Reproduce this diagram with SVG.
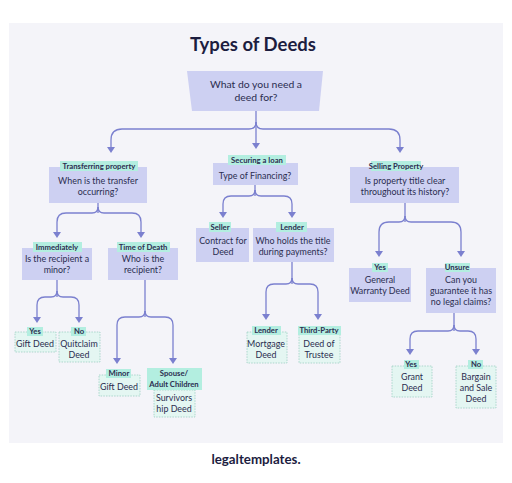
<svg xmlns="http://www.w3.org/2000/svg" width="512" height="483" viewBox="0 0 512 483">
<defs>
<style>
.bg{fill:#f4f4f9}
.box{fill:#cdd0f2}
.tag{fill:#b3eee0}
.leaf{fill:#e4f6f2;stroke:#9ccfc3;stroke-width:0.8;stroke-dasharray:1.5 1.2}
.c{fill:none;stroke:#7b80cf;stroke-width:1.3}
.ar{fill:#7b80cf}
text{font-family:Lato,"Noto Sans","DejaVu Sans",sans-serif;fill:#2b2d50;text-anchor:middle}
.t{font-size:8.9px}
.g{font-size:7.7px;font-weight:700}
.r{font-size:10.4px}
</style>
</defs>
<rect x="0" y="0" width="512" height="483" fill="#ffffff"/>
<rect class="bg" x="9" y="23" width="494" height="420"/>
<text x="253" y="51" style="font-size:18.5px;font-weight:700;fill:#1c1d3f">Types of Deeds</text>

<g id="connectors">
<path class="c" d="M256,111 V129"/>
<path class="c" d="M256,122 Q256,129 249,129 H122 Q111,129 111,140 V148"/>
<path class="c" d="M256,122 Q256,129 263,129 H389 Q400,129 400,140 V148"/>
<path class="c" d="M256,129 V144"/>
<path class="ar" d="M252,143 H260 L256,149 Z"/>
<path class="ar" d="M107,147 H115 L111,153 Z"/>
<path class="ar" d="M396,147 H404 L400,153 Z"/>
<path class="c" d="M98,203 V213"/>
<path class="c" d="M98,207 Q98,213 92,213 H66 Q57,213 57,222 V233"/>
<path class="c" d="M98,207 Q98,213 104,213 H132 Q141,213 141,222 V233"/>
<path class="ar" d="M53,232 H61 L57,238 Z"/>
<path class="ar" d="M137,232 H145 L141,238 Z"/>
<path class="c" d="M255,185 V196"/>
<path class="c" d="M255,190 Q255,196 249,196 H231 Q223,196 223,204 V213"/>
<path class="c" d="M255,190 Q255,196 261,196 H284 Q292,196 292,204 V213"/>
<path class="ar" d="M219,212 H227 L223,218 Z"/>
<path class="ar" d="M288,212 H296 L292,218 Z"/>
<path class="c" d="M405,203 V222"/>
<path class="c" d="M405,216 Q405,222 399,222 H389 Q379,222 379,232 V252"/>
<path class="c" d="M405,216 Q405,222 411,222 H451 Q461,222 461,232 V252"/>
<path class="ar" d="M375,251 H383 L379,257 Z"/>
<path class="ar" d="M457,251 H465 L461,257 Z"/>
<path class="c" d="M57,280 V297"/>
<path class="c" d="M57,291 Q57,297 51,297 H45 Q37,297 37,305 V318"/>
<path class="c" d="M57,291 Q57,297 63,297 H71 Q79,297 79,305 V318"/>
<path class="ar" d="M33,317 H41 L37,323 Z"/>
<path class="ar" d="M75,317 H83 L79,323 Z"/>
<path class="c" d="M145,280 V317"/>
<path class="c" d="M145,311 Q145,317 139,317 H125 Q117,317 117,325 V359"/>
<path class="c" d="M145,311 Q145,317 151,317 H165 Q173,317 173,325 V359"/>
<path class="ar" d="M113,358 H121 L117,364 Z"/>
<path class="ar" d="M169,358 H177 L173,364 Z"/>
<path class="c" d="M292,262 V284"/>
<path class="c" d="M292,278 Q292,284 286,284 H274 Q266,284 266,292 V315"/>
<path class="c" d="M292,278 Q292,284 298,284 H310 Q318,284 318,292 V315"/>
<path class="ar" d="M262,314 H270 L266,320 Z"/>
<path class="ar" d="M314,314 H322 L318,320 Z"/>
<path class="c" d="M454,313 V331"/>
<path class="c" d="M454,325 Q454,331 448,331 H418 Q410,331 410,339 V350"/>
<path class="c" d="M454,325 Q454,331 460,331 H468 Q476,331 476,339 V350"/>
<path class="ar" d="M406,349 H414 L410,355 Z"/>
<path class="ar" d="M472,349 H480 L476,355 Z"/>
</g>

<g id="root">
<polygon class="box" points="187,71 323,71 319,111 192,111"/>
<text class="r" x="256" y="88">What do you need a</text>
<text class="r" x="256" y="101">deed for?</text>
</g>

<g id="transferring">
<rect class="box" x="49" y="167" width="98" height="36"/>
<rect class="tag" x="60" y="161" width="78" height="10"/>
<text class="g" x="99" y="169">Transferring property</text>
<text class="t" x="98" y="184">When is the transfer</text>
<text class="t" x="98" y="195">occurring?</text>
</g>

<g id="securing">
<rect class="box" x="213" y="163" width="85" height="22"/>
<rect class="tag" x="228" y="155" width="58" height="10"/>
<text class="g" x="257" y="163">Securing a loan</text>
<text class="t" x="255" y="179">Type of Financing?</text>
</g>

<g id="selling">
<rect class="box" x="350" y="167" width="109" height="36"/>
<rect class="tag" x="371" y="161" width="50" height="10"/>
<text class="g" x="396" y="169">Selling Property</text>
<text class="t" x="405" y="184">Is property title clear</text>
<text class="t" x="405" y="195">throughout its history?</text>
</g>

<g id="immediately">
<rect class="box" x="22" y="248" width="70" height="32"/>
<rect class="tag" x="33" y="242" width="49" height="10"/>
<text class="g" x="57" y="250">Immediately</text>
<text class="t" x="57" y="262">Is the recipient a</text>
<text class="t" x="57" y="273">minor?</text>
</g>

<g id="timeofdeath">
<rect class="box" x="108" y="248" width="70" height="32"/>
<rect class="tag" x="117" y="242" width="53" height="10"/>
<text class="g" x="143" y="250">Time of Death</text>
<text class="t" x="143" y="262">Who is the</text>
<text class="t" x="143" y="273">recipient?</text>
</g>

<g id="seller">
<rect class="box" x="196" y="228" width="53" height="34"/>
<rect class="tag" x="209" y="222" width="22" height="10"/>
<text class="g" x="220" y="230">Seller</text>
<text class="t" x="223" y="244">Contract for</text>
<text class="t" x="223" y="255">Deed</text>
</g>

<g id="lender">
<rect class="box" x="253" y="228" width="81" height="34"/>
<rect class="tag" x="276" y="222" width="31" height="10"/>
<text class="g" x="292" y="230">Lender</text>
<text class="t" x="293" y="244">Who holds the title</text>
<text class="t" x="293" y="255">during payments?</text>
</g>

<g id="general-warranty">
<rect class="box" x="349" y="268" width="62" height="34"/>
<rect class="tag" x="372" y="263" width="16" height="9"/>
<text class="g" x="380" y="270">Yes</text>
<text class="t" x="380" y="283">General</text>
<text class="t" x="380" y="294">Warranty Deed</text>
</g>

<g id="unsure">
<rect class="box" x="426" y="268" width="70" height="45"/>
<rect class="tag" x="445" y="263" width="25" height="9"/>
<text class="g" x="457" y="270">Unsure</text>
<text class="t" x="461" y="283">Can you</text>
<text class="t" x="461" y="294">guarantee it has</text>
<text class="t" x="461" y="305">no legal claims?</text>
</g>

<g id="gift-deed-1">
<rect class="leaf" x="15" y="332" width="41" height="20"/>
<rect class="tag" x="27" y="327" width="16" height="9"/>
<text class="g" x="35" y="334">Yes</text>
<text class="t" x="35" y="347">Gift Deed</text>
</g>

<g id="quitclaim">
<rect class="leaf" x="59" y="332" width="41" height="30"/>
<rect class="tag" x="71" y="327" width="15" height="9"/>
<text class="g" x="79" y="334">No</text>
<text class="t" x="79" y="347">Quitclaim</text>
<text class="t" x="79" y="358">Deed</text>
</g>

<g id="gift-deed-2">
<rect class="leaf" x="99" y="375" width="41" height="21"/>
<rect class="tag" x="106" y="369" width="25" height="9"/>
<text class="g" x="119" y="376">Minor</text>
<text class="t" x="119" y="390">Gift Deed</text>
</g>

<g id="survivorship">
<rect class="leaf" x="154" y="390" width="41" height="27"/>
<rect class="tag" x="147" y="368" width="55" height="22"/>
<text class="g" x="174" y="376">Spouse/</text>
<text class="g" x="174" y="387">Adult Children</text>
<text class="t" x="174" y="401">Survivors</text>
<text class="t" x="174" y="412">hip Deed</text>
</g>

<g id="mortgage">
<rect class="leaf" x="247" y="332" width="40" height="31"/>
<rect class="tag" x="252" y="326" width="29" height="9"/>
<text class="g" x="266" y="333">Lender</text>
<text class="t" x="266" y="347">Mortgage</text>
<text class="t" x="266" y="358">Deed</text>
</g>

<g id="deed-of-trustee">
<rect class="leaf" x="299" y="332" width="41" height="31"/>
<rect class="tag" x="298" y="326" width="43" height="9"/>
<text class="g" x="319" y="333">Third-Party</text>
<text class="t" x="319" y="347">Deed of</text>
<text class="t" x="319" y="358">Trustee</text>
</g>

<g id="grant">
<rect class="leaf" x="392" y="366" width="40" height="31"/>
<rect class="tag" x="404" y="360" width="15" height="9"/>
<text class="g" x="411" y="367">Yes</text>
<text class="t" x="412" y="380">Grant</text>
<text class="t" x="412" y="391">Deed</text>
</g>

<g id="bargain">
<rect class="leaf" x="456" y="366" width="40" height="42"/>
<rect class="tag" x="468" y="360" width="15" height="9"/>
<text class="g" x="476" y="367">No</text>
<text class="t" x="476" y="380">Bargain</text>
<text class="t" x="476" y="391">and Sale</text>
<text class="t" x="476" y="402">Deed</text>
</g>

<text x="256" y="464" style="font-size:13.3px;font-weight:700;fill:#1c1d3f">legaltemplates.</text>
</svg>
